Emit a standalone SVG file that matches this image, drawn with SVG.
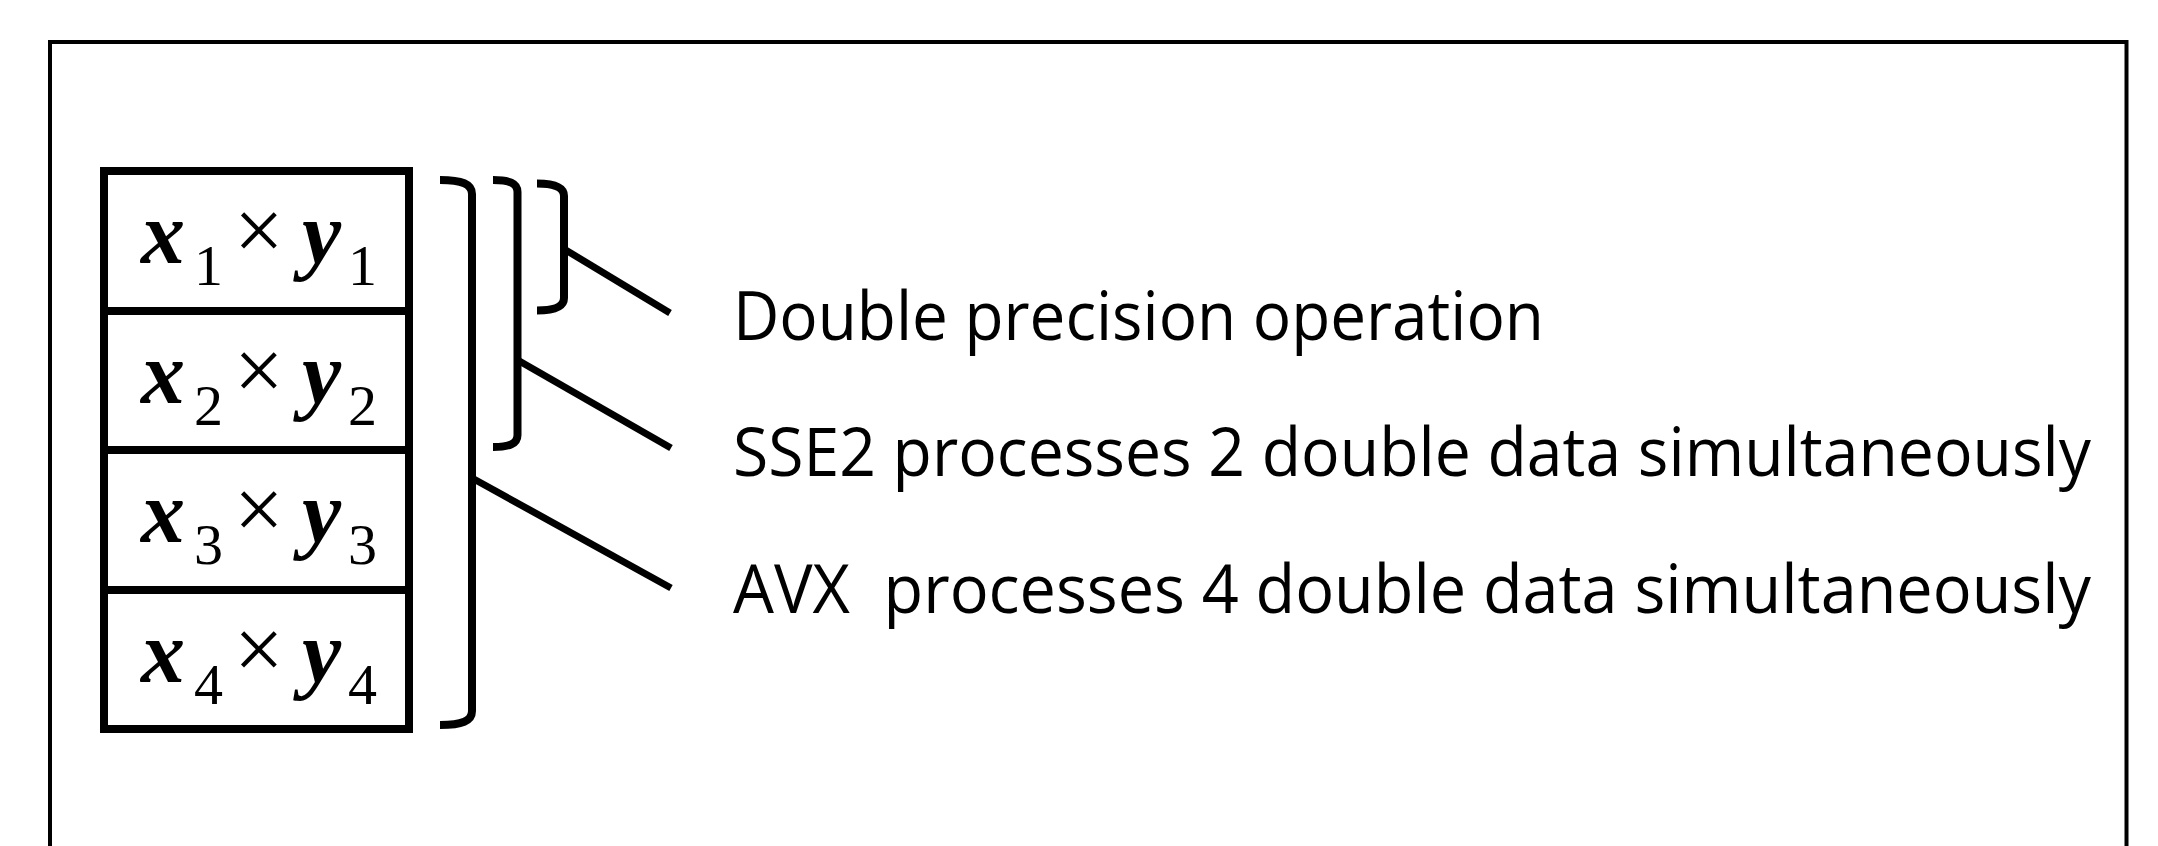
<svg xmlns="http://www.w3.org/2000/svg" width="2158" height="846" viewBox="0 0 2158 846">
  <style>
    .frame { fill: none; stroke: #000; stroke-width: 4; }
    .cell { fill: #fff; stroke: #000; stroke-width: 8; }
    .bracket { fill: none; stroke: #000; stroke-width: 8; stroke-linecap: butt; }
    .lead { stroke: #000; stroke-width: 7; stroke-linecap: butt; }
    .var { font-family: "Liberation Serif", serif; font-weight: bold; font-style: italic; font-size: 88px; fill: #000; }
    .sub { font-family: "Liberation Serif", serif; font-size: 58px; fill: #000; }
    .op { font-family: "Liberation Serif", serif; font-size: 88px; fill: #000; }
    .label { font-family: "Open Sans", "Liberation Sans", sans-serif; font-size: 67px; fill: #000; }
  </style>
  <rect width="2158" height="846" fill="#fff"/>

  <!-- outer frame (bottom edge runs past the canvas) -->
  <rect id="frame" class="frame" x="50" y="42" width="2076.5" height="840"/>

  <!-- register of four products -->
  <g id="register">
    <rect class="cell" x="104" y="171" width="305" height="558"/>
    <line class="cell" x1="104" y1="311" x2="409" y2="311"/>
    <line class="cell" x1="104" y1="450" x2="409" y2="450"/>
    <line class="cell" x1="104" y1="590" x2="409" y2="590"/>
  </g>

  <g id="cell1">
    <text class="var" x="141" y="263">x</text>
    <text class="sub" x="194" y="285">1</text>
    <text class="op" x="234" y="260">×</text>
    <text class="var" x="302" y="263">y</text>
    <text class="sub" x="348" y="285">1</text>
  </g>
  <g id="cell2">
    <text class="var" x="141" y="403">x</text>
    <text class="sub" x="194" y="425">2</text>
    <text class="op" x="234" y="400">×</text>
    <text class="var" x="302" y="403">y</text>
    <text class="sub" x="348" y="425">2</text>
  </g>
  <g id="cell3">
    <text class="var" x="141" y="542">x</text>
    <text class="sub" x="194" y="564">3</text>
    <text class="op" x="234" y="539">×</text>
    <text class="var" x="302" y="542">y</text>
    <text class="sub" x="348" y="564">3</text>
  </g>
  <g id="cell4">
    <text class="var" x="141" y="682">x</text>
    <text class="sub" x="194" y="704">4</text>
    <text class="op" x="234" y="679">×</text>
    <text class="var" x="302" y="682">y</text>
    <text class="sub" x="348" y="704">4</text>
  </g>

  <!-- brackets grouping 4, 2 and 1 elements -->
  <g id="brackets">
    <path id="bracket-avx" class="bracket" d="M440,180 C462,180 472,184 472,194 V711 C472,721 462,725 440,725"/>
    <path id="bracket-sse2" class="bracket" d="M493,180 C509,180 517.5,183 517.5,192 V435 C517.5,444 509,447 493,447"/>
    <path id="bracket-double" class="bracket" d="M537,183.5 C555,183.5 564,187 564,196 V298 C564,307 555,310.5 537,310.5"/>
  </g>

  <!-- leader lines from brackets to labels -->
  <g id="connectors">
    <line class="lead" x1="564" y1="249" x2="670" y2="313"/>
    <line class="lead" x1="517.5" y1="360" x2="671" y2="448"/>
    <line class="lead" x1="472" y1="478" x2="671" y2="588"/>
  </g>

  <g id="label-double">
    <text class="label" x="733" y="340" textLength="811" lengthAdjust="spacingAndGlyphs">Double precision operation</text>
  </g>
  <g id="label-sse2">
    <text class="label" x="733" y="476" textLength="1358" lengthAdjust="spacingAndGlyphs">SSE2 processes 2 double data simultaneously</text>
  </g>
  <g id="label-avx">
    <text class="label" x="733" y="613" textLength="1358" lengthAdjust="spacingAndGlyphs" xml:space="preserve">AVX  processes 4 double data simultaneously</text>
  </g>
</svg>
